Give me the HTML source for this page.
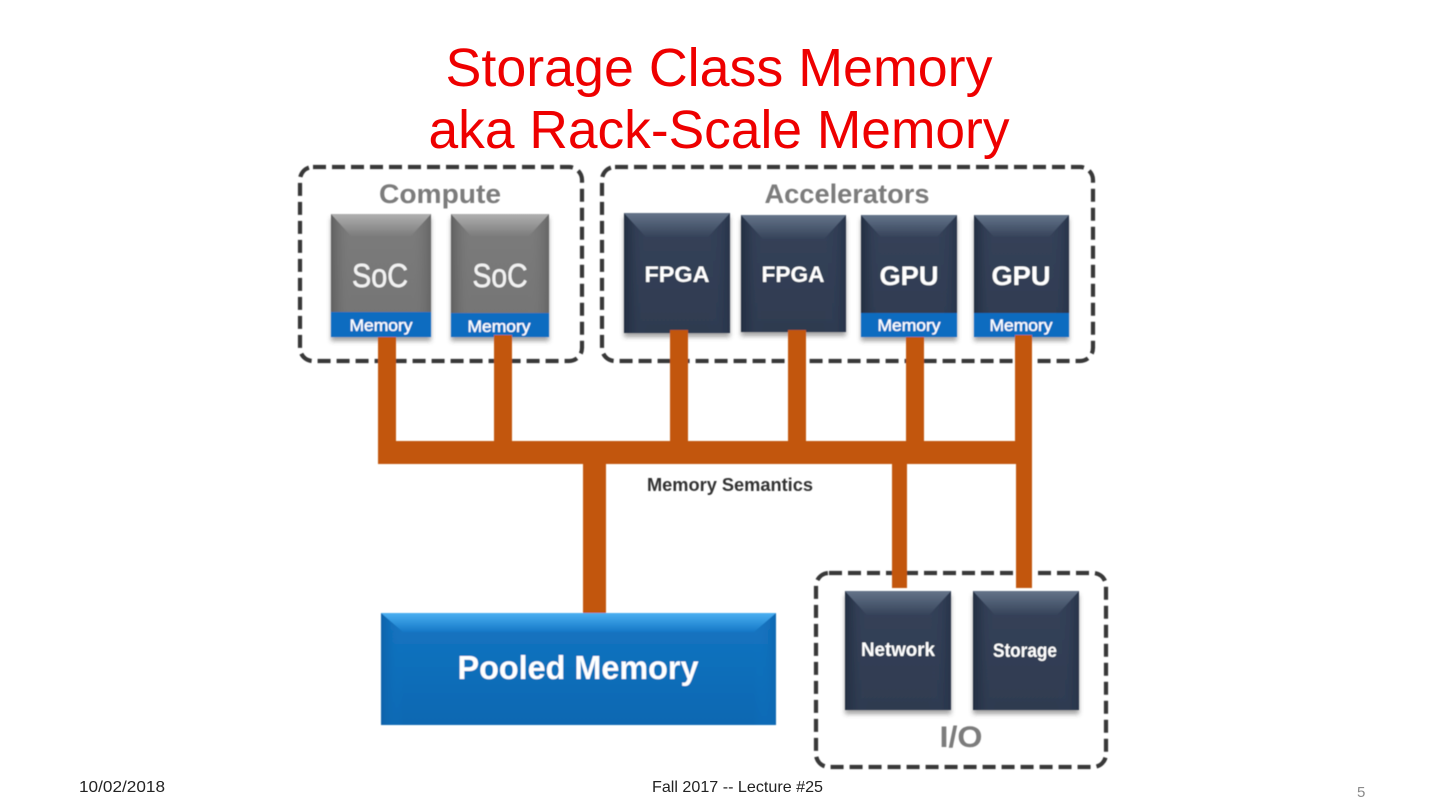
<!DOCTYPE html>
<html>
<head>
<meta charset="utf-8">
<style>
html,body{margin:0;padding:0;background:#fff;width:1440px;height:810px;overflow:hidden}
svg{display:block}
text{font-family:"Liberation Sans",sans-serif}
</style>
</head>
<body>
<svg width="1440" height="810" viewBox="0 0 1440 810" xmlns="http://www.w3.org/2000/svg">
<defs>
<filter id="soft" x="-5%" y="-5%" width="110%" height="110%"><feGaussianBlur stdDeviation="0.55"/></filter>
<filter id="sh" x="-20%" y="-20%" width="140%" height="140%"><feGaussianBlur stdDeviation="2.5"/></filter>
<linearGradient id="navyTop" x1="0" y1="0" x2="0" y2="1"><stop offset="0" stop-color="#64748a"/><stop offset="1" stop-color="#36435a"/></linearGradient>
<linearGradient id="navyBody" x1="0" y1="0" x2="0" y2="1"><stop offset="0" stop-color="#36435a"/><stop offset="1" stop-color="#2f3b50"/></linearGradient>
<linearGradient id="navyL" x1="0" y1="0" x2="1" y2="0"><stop offset="0" stop-color="#222d40"/><stop offset="1" stop-color="#33405a" stop-opacity="0"/></linearGradient>
<linearGradient id="navyR" x1="1" y1="0" x2="0" y2="0"><stop offset="0" stop-color="#28344a"/><stop offset="1" stop-color="#33405a" stop-opacity="0"/></linearGradient>
<linearGradient id="grayTop" x1="0" y1="0" x2="0" y2="1"><stop offset="0" stop-color="#b0b0b0"/><stop offset="1" stop-color="#7c7c7c"/></linearGradient>
<linearGradient id="grayBody" x1="0" y1="0" x2="0" y2="1"><stop offset="0" stop-color="#7c7c7c"/><stop offset="1" stop-color="#747474"/></linearGradient>
<linearGradient id="grayL" x1="0" y1="0" x2="1" y2="0"><stop offset="0" stop-color="#5f5f5f"/><stop offset="1" stop-color="#7a7a7a" stop-opacity="0"/></linearGradient>
<linearGradient id="grayR" x1="1" y1="0" x2="0" y2="0"><stop offset="0" stop-color="#666"/><stop offset="1" stop-color="#7a7a7a" stop-opacity="0"/></linearGradient>
<linearGradient id="blueTop" x1="0" y1="0" x2="0" y2="1"><stop offset="0" stop-color="#4bb0f2"/><stop offset="1" stop-color="#1578c6"/></linearGradient>
<linearGradient id="blueBody" x1="0" y1="0" x2="0" y2="1"><stop offset="0" stop-color="#1475c2"/><stop offset="1" stop-color="#0c68b2"/></linearGradient>
<linearGradient id="blueL" x1="0" y1="0" x2="1" y2="0"><stop offset="0" stop-color="#0e62aa"/><stop offset="1" stop-color="#1475c2" stop-opacity="0"/></linearGradient>
<linearGradient id="blueR" x1="1" y1="0" x2="0" y2="0"><stop offset="0" stop-color="#1068b2"/><stop offset="1" stop-color="#1475c2" stop-opacity="0"/></linearGradient>
</defs>

<text x="719" y="86" font-size="54" fill="#ee0000" text-anchor="middle" textLength="547" lengthAdjust="spacingAndGlyphs">Storage Class Memory</text>
<text x="719" y="148" font-size="54" fill="#ee0000" text-anchor="middle" textLength="581" lengthAdjust="spacingAndGlyphs">aka Rack-Scale Memory</text>

<g filter="url(#soft)">
<!-- dashed groups -->
<g fill="none" stroke="#383838" stroke-width="4.2" stroke-dasharray="13 6">
<rect x="300" y="167" width="282" height="194" rx="13"/>
<rect x="602" y="167" width="491" height="194" rx="13"/>
<rect x="816" y="573" width="290" height="194" rx="13"/>
</g>

<!-- shadows -->
<g fill="#555" opacity="0.55" filter="url(#sh)">
<rect x="331" y="218" width="100" height="123"/>
<rect x="451" y="218" width="98" height="123"/>
<rect x="624" y="217" width="106" height="120"/>
<rect x="741" y="219" width="105" height="117"/>
<rect x="861" y="219" width="96" height="122"/>
<rect x="974" y="219" width="95" height="122"/>
<rect x="845" y="595" width="106" height="119"/>
<rect x="973" y="595" width="106" height="119"/>
</g>

<!-- SoC 1 -->
<rect x="331" y="214" width="100" height="123" fill="url(#grayBody)"/>
<polygon points="331,214 351,236 351,312 331,312" fill="url(#grayL)"/>
<polygon points="431,214 411,236 411,312 431,312" fill="url(#grayR)"/>
<polygon points="331,214 431,214 411,236 351,236" fill="url(#grayTop)"/>
<rect x="331" y="312" width="100" height="25" fill="#0a6cc0"/>
<!-- SoC 2 -->
<rect x="451" y="214" width="98" height="123" fill="url(#grayBody)"/>
<polygon points="451,214 471,236 471,313 451,313" fill="url(#grayL)"/>
<polygon points="549,214 529,236 529,313 549,313" fill="url(#grayR)"/>
<polygon points="451,214 549,214 529,236 471,236" fill="url(#grayTop)"/>
<rect x="451" y="313" width="98" height="24" fill="#0a6cc0"/>
<!-- FPGA 1 -->
<rect x="624" y="213" width="106" height="120" fill="url(#navyBody)"/>
<polygon points="624,213 646,237 646,333 624,333" fill="url(#navyL)"/>
<polygon points="730,213 708,237 708,333 730,333" fill="url(#navyR)"/>
<polygon points="624,213 730,213 708,237 646,237" fill="url(#navyTop)"/>
<!-- FPGA 2 -->
<rect x="741" y="215" width="105" height="117" fill="url(#navyBody)"/>
<polygon points="741,215 763,239 763,332 741,332" fill="url(#navyL)"/>
<polygon points="846,215 824,239 824,332 846,332" fill="url(#navyR)"/>
<polygon points="741,215 846,215 824,239 763,239" fill="url(#navyTop)"/>
<!-- GPU 1 -->
<rect x="861" y="215" width="96" height="122" fill="url(#navyBody)"/>
<polygon points="861,215 881,237 881,313 861,313" fill="url(#navyL)"/>
<polygon points="957,215 937,237 937,313 957,313" fill="url(#navyR)"/>
<polygon points="861,215 957,215 937,237 881,237" fill="url(#navyTop)"/>
<rect x="861" y="313" width="96" height="24" fill="#0a6cc0"/>
<!-- GPU 2 -->
<rect x="974" y="215" width="95" height="122" fill="url(#navyBody)"/>
<polygon points="974,215 994,237 994,313 974,313" fill="url(#navyL)"/>
<polygon points="1069,215 1049,237 1049,313 1069,313" fill="url(#navyR)"/>
<polygon points="974,215 1069,215 1049,237 994,237" fill="url(#navyTop)"/>
<rect x="974" y="313" width="95" height="24" fill="#0a6cc0"/>
<!-- Network -->
<rect x="845" y="591" width="106" height="119" fill="url(#navyBody)"/>
<polygon points="845,591 867,615 867,710 845,710" fill="url(#navyL)"/>
<polygon points="951,591 929,615 929,710 951,710" fill="url(#navyR)"/>
<polygon points="845,591 951,591 929,615 867,615" fill="url(#navyTop)"/>
<!-- Storage -->
<rect x="973" y="591" width="106" height="119" fill="url(#navyBody)"/>
<polygon points="973,591 995,615 995,710 973,710" fill="url(#navyL)"/>
<polygon points="1079,591 1057,615 1057,710 1079,710" fill="url(#navyR)"/>
<polygon points="973,591 1079,591 1057,615 995,615" fill="url(#navyTop)"/>
<!-- Pooled Memory -->
<rect x="381" y="613" width="395" height="112" fill="url(#blueBody)"/>
<polygon points="381,613 403,632 403,725 381,725" fill="url(#blueL)"/>
<polygon points="776,613 754,632 754,725 776,725" fill="url(#blueR)"/>
<polygon points="381,613 776,613 754,632 403,632" fill="url(#blueTop)"/>

<!-- buses -->
<g fill="#c2560c">
<rect x="378" y="441" width="654" height="23"/>
<rect x="378" y="337" width="18" height="127"/>
<rect x="494" y="335" width="18" height="110"/>
<rect x="670" y="330" width="18" height="115"/>
<rect x="788" y="330" width="18" height="115"/>
<rect x="906" y="337" width="18" height="108"/>
<rect x="1015" y="335" width="17" height="110"/>
<rect x="583" y="460" width="23" height="153"/>
<rect x="892" y="460" width="15" height="128"/>
<rect x="1016" y="460" width="16" height="128"/>
</g>

<!-- labels -->
<g text-anchor="middle" font-weight="bold">
<text x="440" y="203" font-size="27" fill="#7b7b7b" textLength="122" lengthAdjust="spacingAndGlyphs">Compute</text>
<text x="847" y="203" font-size="27" fill="#7b7b7b" textLength="165" lengthAdjust="spacingAndGlyphs">Accelerators</text>
<text x="677" y="282" font-size="22" fill="#fff" textLength="65" lengthAdjust="spacingAndGlyphs">FPGA</text>
<text x="793" y="282" font-size="22" fill="#fff" textLength="63" lengthAdjust="spacingAndGlyphs">FPGA</text>
<text x="909" y="285" font-size="27" fill="#fff" textLength="59" lengthAdjust="spacingAndGlyphs">GPU</text>
<text x="1021" y="285" font-size="27" fill="#fff" textLength="59" lengthAdjust="spacingAndGlyphs">GPU</text>
<text x="730" y="491" font-size="18.5" fill="#333" textLength="166" lengthAdjust="spacingAndGlyphs">Memory Semantics</text>
<text x="898" y="656" font-size="19" fill="#fff" textLength="74" lengthAdjust="spacingAndGlyphs">Network</text>
<text x="1025" y="657" font-size="19" fill="#fff" textLength="64" lengthAdjust="spacingAndGlyphs">Storage</text>
<text x="578" y="679" font-size="33" fill="#fff" textLength="241" lengthAdjust="spacingAndGlyphs">Pooled Memory</text>
</g>
<g text-anchor="middle">
<text x="380" y="287" font-size="33" fill="#f2f2f2" stroke="#f2f2f2" stroke-width="0.5" textLength="56" lengthAdjust="spacingAndGlyphs">SoC</text>
<text x="500" y="287" font-size="33" fill="#f2f2f2" stroke="#f2f2f2" stroke-width="0.5" textLength="55" lengthAdjust="spacingAndGlyphs">SoC</text>
<g fill="#fff" stroke="#fff" stroke-width="0.3">
<text x="381" y="331" font-size="17" textLength="63" lengthAdjust="spacingAndGlyphs">Memory</text>
<text x="499" y="332" font-size="17" textLength="63" lengthAdjust="spacingAndGlyphs">Memory</text>
<text x="909" y="331" font-size="17" textLength="63" lengthAdjust="spacingAndGlyphs">Memory</text>
<text x="1021" y="331" font-size="17" textLength="63" lengthAdjust="spacingAndGlyphs">Memory</text>
</g>
<text x="961" y="747" font-size="30" font-weight="bold" fill="#7b7b7b" textLength="43" lengthAdjust="spacingAndGlyphs">I/O</text>
</g>
</g>

<!-- footer -->
<text x="79" y="792" font-size="16" fill="#222" textLength="86" lengthAdjust="spacingAndGlyphs">10/02/2018</text>
<text x="652" y="792" font-size="16" fill="#222" textLength="171" lengthAdjust="spacingAndGlyphs">Fall 2017 -- Lecture #25</text>
<text x="1357" y="797" font-size="15" fill="#8a8a8a">5</text>
</svg>
</body>
</html>
